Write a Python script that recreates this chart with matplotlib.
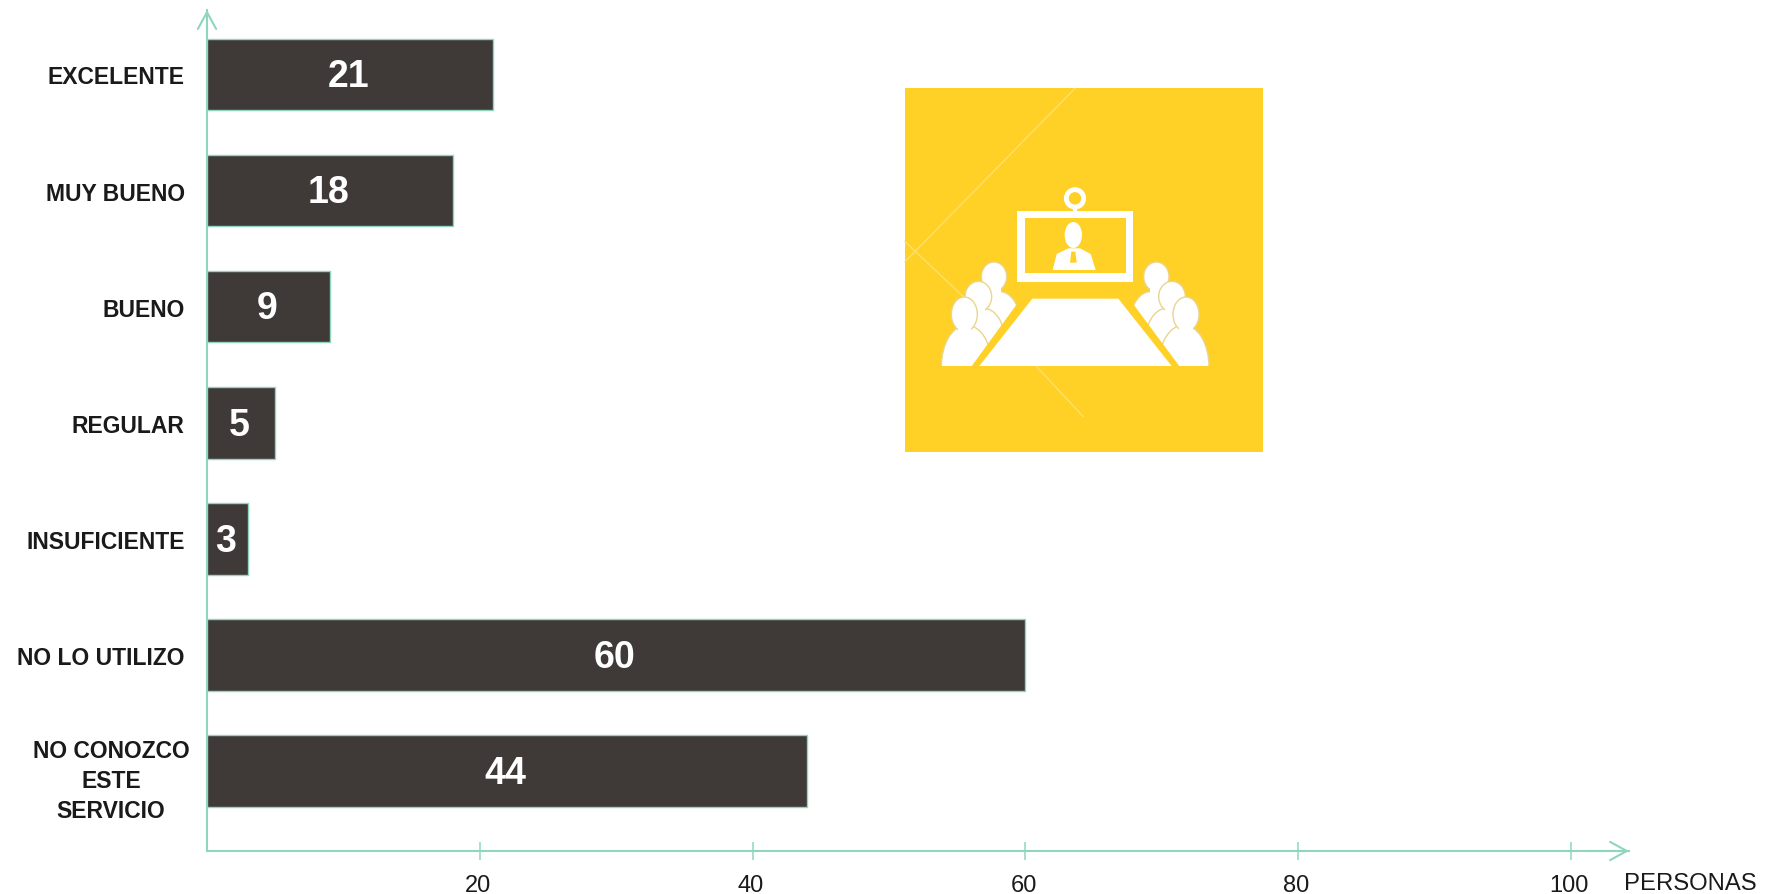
import matplotlib
matplotlib.use('Agg')
import matplotlib.pyplot as plt
from matplotlib.patches import Rectangle, Ellipse, Polygon, Circle
from matplotlib.transforms import ScaledTranslation

categories = ['EXCELENTE', 'MUY BUENO', 'BUENO', 'REGULAR', 'INSUFICIENTE',
              'NO LO UTILIZO', 'NO CONOZCO\nESTE\nSERVICIO']
values = [21, 18, 9, 5, 3, 60, 44]
x_ticks = [20, 40, 60, 80, 100]
x_name = 'PERSONAS'

W, H = 1775, 895
AXIS = '#8FD6BE'
BAR = '#3F3938'
YELLOW = '#FFD026'
plt.rcParams['font.family'] = ['Liberation Sans', 'DejaVu Sans']


def px_axes(fig, left, top, right, bottom):
    return fig.add_axes([left / W, 1 - bottom / H, (right - left) / W, (bottom - top) / H])


fig = plt.figure(figsize=(W / 100, H / 100), dpi=100)
ax = px_axes(fig, 207, 11, 1629, 852)

ax.barh(range(len(values)), values, height=0.615, color=BAR, edgecolor=AXIS, linewidth=1.0, zorder=3)
ax.set_xlim(0, 1422 / 13.64)
ax.set_ylim((852 - 75.5) / 116.1, (11 - 75.5) / 116.1)

for i, v in enumerate(values):
    ax.text(v / 2 - 0.12, i + 0.015, str(v), color='white', fontsize=27, fontweight='bold',
            ha='center', va='center', zorder=4)

for s in ['top', 'right']:
    ax.spines[s].set_visible(False)
for s in ['left', 'bottom']:
    ax.spines[s].set_color(AXIS)
    ax.spines[s].set_linewidth(1.5)

# open arrow heads on both axes
arrow = dict(arrowstyle='->,head_length=1.1,head_width=0.6', color=AXIS, lw=1.5, shrinkA=0, shrinkB=0,
             mutation_scale=11)
ax.annotate('', xy=(1, 0), xytext=(0.97, 0), xycoords='axes fraction', arrowprops=arrow, annotation_clip=False)
ax.annotate('', xy=(0, 1), xytext=(0, 0.97), xycoords='axes fraction', arrowprops=arrow, annotation_clip=False)

ax.set_xticks(x_ticks)
ax.set_xticklabels(x_ticks, fontsize=17, color='#1a1a1a')
ax.tick_params(axis='x', direction='inout', length=13, width=1.1, color=AXIS, pad=10)
for lab in ax.get_xticklabels():
    lab.set_transform(lab.get_transform() + ScaledTranslation(-1.2 / 72, 0, fig.dpi_scale_trans))
ax.set_yticks(range(len(categories)))
ax.set_yticklabels(categories, fontsize=16.5, fontweight='bold', color='#1a1a1a', ma='center', linespacing=1.37)
ax.tick_params(axis='y', length=0, pad=16)
last = ax.get_yticklabels()[-1]
last.set_transform(last.get_transform() + ScaledTranslation(3.3 / 72, -2.5 / 72, fig.dpi_scale_trans))
ax.text(1624 / W, 1 - 884 / H, x_name, transform=fig.transFigure, fontsize=17.2, color='#1a1a1a',
        ha='left', va='center')

# icon, drawn on its own axes
ic = px_axes(fig, 880, 71, 1280, 471)
ic.set_xlim(0, 1200)
ic.set_ylim(1200, 0)
ic.axis('off')
ic.add_patch(Rectangle((75, 55), 1075, 1090, color=YELLOW, lw=0))
PALE = '#FFE06C'
ic.plot([585, 75], [55, 575], color=PALE, lw=1)
ic.plot([75, 250], [515, 680], color=PALE, lw=1)


def people(flip):
    fx = (lambda x: 1171 - x) if flip else (lambda x: x)
    edge = '#E9D58E'
    for bx, by, brx, bry, hx, hy, hrx, hry in [(360, 765, 62, 100, 342, 620, 38, 44),
                                               (312, 820, 64, 105, 295, 680, 40, 46),
                                               (260, 890, 76, 125, 253, 733, 39, 52)]:
        ic.add_patch(Ellipse((fx(bx), by), 2 * brx, 2 * bry, fc='white', ec=edge, lw=1))
        ic.add_patch(Ellipse((fx(hx), hy), 2 * hrx, 2 * hry, fc='white', ec=edge, lw=1))
        # neck hides the outline between head and shoulders
        ic.add_patch(Rectangle((fx(hx) - 20, hy + 10), 40, 70, color='white', lw=0))
    # cut the bodies along the table edge
    ic.add_patch(Polygon([(fx(435), 670), (fx(500), 670), (fx(500), 890), (fx(272), 890)], color=YELLOW, lw=0))


people(False)
people(True)
ic.add_patch(Rectangle((150, 888), 880, 160, color=YELLOW, lw=0))
ic.plot([470, 610], [890, 1040], color=PALE, lw=1)
ic.add_patch(Polygon([(457, 686), (715, 686), (875, 888), (298, 888)], color='white', lw=0))
# screen
ic.add_patch(Rectangle((412, 423), 348, 212, color='white', lw=0))
ic.add_patch(Rectangle((435, 443), 302, 167, color=YELLOW, lw=0))
ic.add_patch(Circle((585, 385), 26, fc=YELLOW, ec='white', lw=3.5))
ic.add_patch(Rectangle((578, 410), 14, 15, color='white', lw=0))
# person on screen
ic.add_patch(Ellipse((580, 495), 52, 78, color='white', lw=0))
ic.add_patch(Polygon([(518, 600), (530, 552), (565, 535), (600, 535), (632, 552), (647, 600)], color='white', lw=0))
ic.add_patch(Polygon([(574, 545), (586, 545), (590, 578), (570, 578)], color=YELLOW, lw=0))

fig.savefig('out.png', dpi=100)
